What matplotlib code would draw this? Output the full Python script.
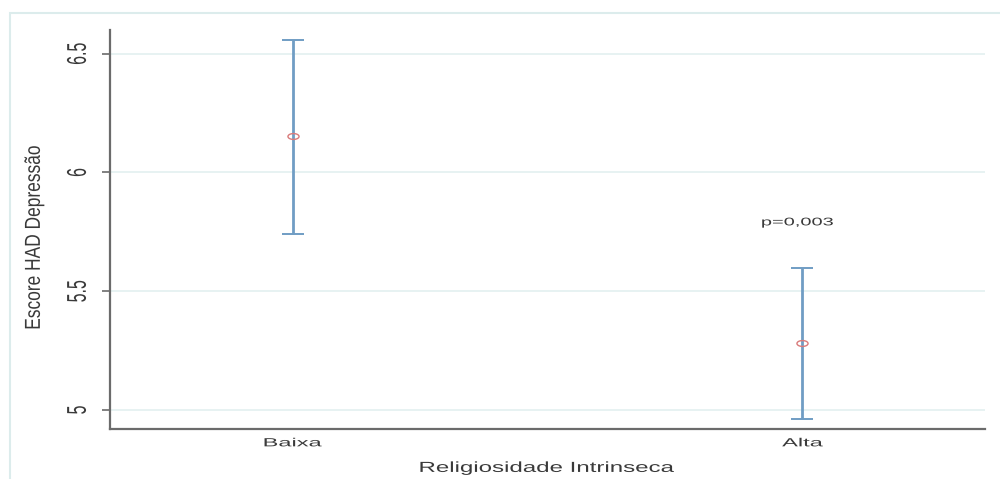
import matplotlib

matplotlib.use("Agg")
import matplotlib.pyplot as plt
import numpy as np
from matplotlib.patches import Rectangle
from matplotlib.path import Path
from matplotlib.patheffects import AbstractPathEffect
from matplotlib.transforms import Affine2D

groups = ["Baixa", "Alta"]
means = [6.152, 5.280]
lower = [5.743, 4.962]
upper = [6.559, 5.596]
y_ticks = [5, 5.5, 6, 6.5]
y_tick_labels = ["5", "5.5", "6", "6.5"]
p_text = "p=0,003"
p_x = 1.99
p_y = 5.79

TEXT = "#3a3a3a"
SPINE = "#6b6b6b"
BAR = "#709dc4"
MEAN = "#d97a7a"
GRID = "#e3f0f0"

plt.rcParams["font.family"] = ["Liberation Sans", "DejaVu Sans"]


class Widen(AbstractPathEffect):
    # the reference image is stretched sideways, so the glyphs are too
    def __init__(self, factor):
        super().__init__()
        self.factor = factor

    def draw_path(self, renderer, gc, tpath, affine, rgbFace=None):
        box = tpath.get_extents(affine)
        centre = (box.x0 + box.x1) / 2
        widen = Affine2D().translate(-centre, 0).scale(self.factor, 1).translate(centre, 0)
        renderer.draw_path(gc, tpath, affine + widen, rgbFace)


figure = plt.figure(figsize=(10, 4.79), dpi=100)
figure.patches.append(
    Rectangle(
        (0.010, -0.1),
        1.2,
        1.1 - 13 / 479,
        transform=figure.transFigure,
        fill=False,
        edgecolor="#dcecec",
        linewidth=1.5,
    )
)
axis = figure.add_axes([0.110, 0.1044, 0.875, 0.833])

positions = np.arange(1, len(groups) + 1)
means = np.array(means)
error = [means - np.array(lower), np.array(upper) - means]
axis.errorbar(
    positions,
    means,
    yerr=error,
    fmt="none",
    ecolor=BAR,
    elinewidth=2.0,
    capsize=8,
    capthick=1.4,
    zorder=3,
)
ellipse = Path.unit_circle().transformed(Affine2D().scale(1.9, 1))
axis.plot(
    positions,
    means,
    linestyle="none",
    marker=ellipse,
    markersize=8,
    markerfacecolor="none",
    markeredgecolor=MEAN,
    markeredgewidth=1.0,
    zorder=4,
)

axis.set_xlim(0.642, 2.358)
axis.set_ylim(4.92, 6.60)
axis.set_xticks(positions, groups)
axis.set_yticks(y_ticks, y_tick_labels)
axis.tick_params(axis="x", length=0, pad=6, labelsize=8.5, colors=TEXT)
axis.tick_params(axis="y", length=6, width=1.2, color=SPINE, pad=12, labelsize=11.5, labelcolor=TEXT)
for label in axis.get_xticklabels():
    label.set_path_effects([Widen(2.0)])
for label in axis.get_yticklabels():
    label.set_rotation(90)
    label.set_verticalalignment("center")
    label.set_path_effects([Widen(1.7)])

axis.grid(axis="y", color=GRID, linewidth=1.2)
axis.set_axisbelow(True)
for side in ("top", "right"):
    axis.spines[side].set_visible(False)
for side in ("left", "bottom"):
    axis.spines[side].set_color(SPINE)
    axis.spines[side].set_linewidth(1.6)

axis.set_xlabel("Religiosidade Intrinseca", fontsize=10.5, color=TEXT,
                path_effects=[Widen(1.65)])
axis.xaxis.set_label_coords(0.5, -0.08)
axis.set_ylabel("Escore HAD Depressão", fontsize=12.5, color=TEXT,
                path_effects=[Widen(1.25)])
axis.yaxis.set_label_coords(-0.078, 0.48)

axis.text(p_x, p_y, p_text, ha="center", va="center", fontsize=8, color=TEXT,
          path_effects=[Widen(1.8)])

figure.savefig("out.png", dpi=100, facecolor="white")
